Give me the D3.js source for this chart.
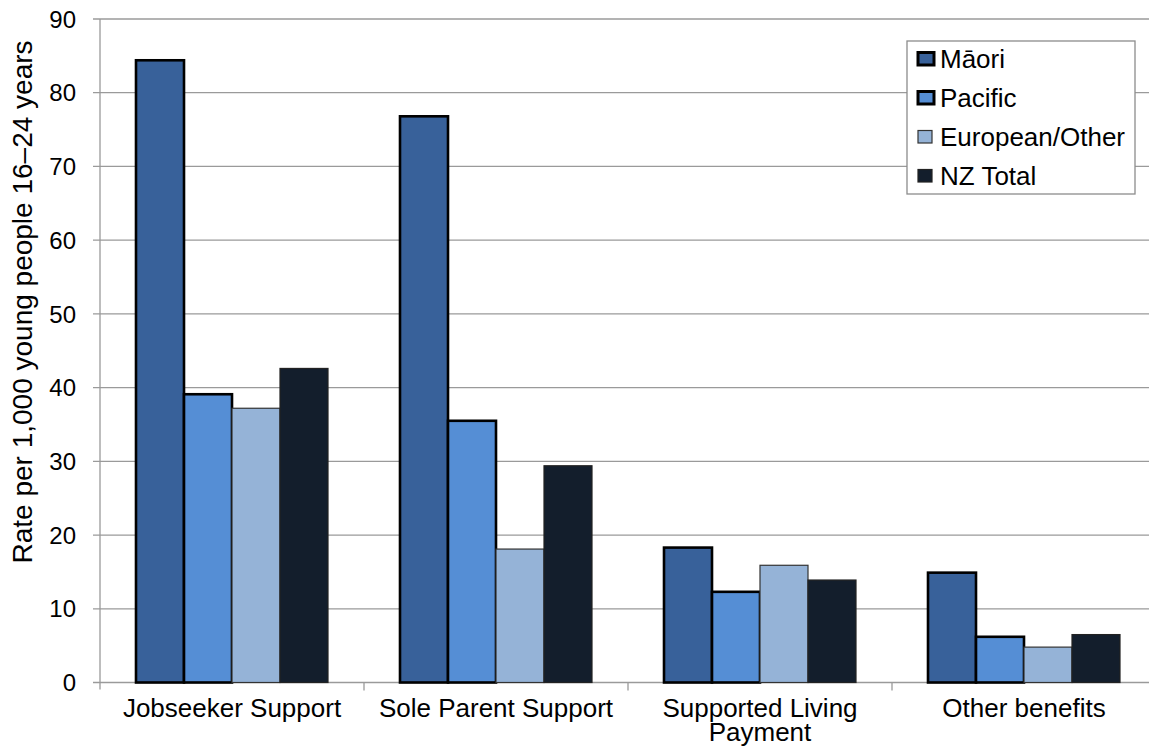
<!DOCTYPE html>
<html>
<head>
<meta charset="utf-8">
<script src="https://cdn.jsdelivr.net/npm/d3@7"></script>
<style>
  html, body { margin: 0; padding: 0; background: #fff; }
  svg { display: block; font-family: "Liberation Sans", Arial, sans-serif; }
</style>
</head>
<body>
<svg id="chart" width="1149" height="754"></svg>
<script>
// Benefit categories (x axis) and population groups (series)
const categories = ["Jobseeker Support", "Sole Parent Support", "Supported Living Payment", "Other benefits"];
const categoryLines = [["Jobseeker Support"], ["Sole Parent Support"], ["Supported Living", "Payment"], ["Other benefits"]];
const series = ["Māori", "Pacific", "European/Other", "NZ Total"];

// Rate per 1,000 young people aged 16–24, per category
const maori         = [84.4, 76.8, 18.3, 14.9];
const pacific       = [39.1, 35.5, 12.3, 6.2];
const europeanOther = [37.2, 18.1, 15.9, 4.8];
const nzTotal       = [42.6, 29.4, 13.9, 6.5];
const yTicks = [0, 10, 20, 30, 40, 50, 60, 70, 80, 90];

const values = [maori, pacific, europeanOther, nzTotal];
const colors = ["#38619A", "#558ED5", "#95B3D7", "#131E2C"];
const strokeW = [2.6, 2.6, 1.2, 1.2];
const strokeC = ["#000", "#000", "#333", "#222"];

const svg = d3.select("#chart");
const plotLeft = 100, plotTop = 19, plotBottom = 682.5, plotRight = 1156;

const y = d3.scaleLinear().domain([0, 90]).range([plotBottom, plotTop]);
const x0 = d3.scaleBand().domain(categories).range([plotLeft, plotRight]).padding(0);
const x1 = d3.scaleBand().domain(series).range([36, x0.bandwidth() - 36]).padding(0);

// Horizontal gridlines
svg.append("g")
  .selectAll("line")
  .data(yTicks)
  .join("line")
  .attr("x1", plotLeft - 7).attr("x2", 1149)
  .attr("y1", d => y(d)).attr("y2", d => y(d))
  .attr("stroke", "#9a9a9a").attr("stroke-width", 1.3);

// Y axis line
svg.append("line")
  .attr("x1", plotLeft).attr("x2", plotLeft)
  .attr("y1", plotTop).attr("y2", plotBottom + 7)
  .attr("stroke", "#9a9a9a").attr("stroke-width", 1.3);

// Y tick labels
svg.append("g")
  .selectAll("text")
  .data(yTicks)
  .join("text")
  .attr("x", 76)
  .attr("y", d => y(d))
  .attr("dy", "0.36em")
  .attr("text-anchor", "end")
  .attr("font-size", 24)
  .attr("fill", "#000")
  .text(d => d);

// Category separators on the x axis
svg.append("g")
  .selectAll("line")
  .data(categories.slice(1))
  .join("line")
  .attr("x1", d => x0(d)).attr("x2", d => x0(d))
  .attr("y1", plotBottom).attr("y2", plotBottom + 8)
  .attr("stroke", "#9a9a9a").attr("stroke-width", 1.3);

// Bars
const groups = svg.append("g")
  .selectAll("g")
  .data(categories)
  .join("g")
  .attr("transform", d => `translate(${x0(d)},0)`);

groups.selectAll("rect")
  .data((c, ci) => series.map((s, si) => ({ s, si, v: values[si][ci] })))
  .join("rect")
  .attr("x", d => x1(d.s))
  .attr("width", x1.bandwidth())
  .attr("y", d => y(d.v))
  .attr("height", d => plotBottom - y(d.v))
  .attr("fill", d => colors[d.si])
  .attr("stroke", d => strokeC[d.si])
  .attr("stroke-width", d => strokeW[d.si]);

// Category labels (multi-line where needed)
const catLabels = svg.append("g")
  .selectAll("text")
  .data(categories)
  .join("text")
  .attr("x", d => x0(d) + x0.bandwidth() / 2)
  .attr("y", 716.5)
  .attr("text-anchor", "middle")
  .attr("font-size", 26)
  .attr("fill", "#000");
catLabels.each(function (d, i) {
  d3.select(this).selectAll("tspan")
    .data(categoryLines[i])
    .join("tspan")
    .attr("x", x0(d) + x0.bandwidth() / 2)
    .attr("dy", (t, j) => j === 0 ? 0 : 24.5)
    .text(t => t);
});

// Y axis title
svg.append("text")
  .attr("transform", "translate(32, 302) rotate(-90)")
  .attr("text-anchor", "middle")
  .attr("font-size", 28)
  .attr("fill", "#000")
  .text("Rate per 1,000 young people 16–24 years");

// Legend
const legend = svg.append("g").attr("transform", "translate(907,41)");
legend.append("rect")
  .attr("width", 228).attr("height", 153)
  .attr("fill", "#fff").attr("stroke", "#8c8c8c").attr("stroke-width", 1.3);
const items = legend.selectAll("g")
  .data(series)
  .join("g")
  .attr("transform", (d, i) => `translate(0, ${18 + i * 39})`);
items.append("rect")
  .attr("x", (d, i) => i < 2 ? 11 : 11)
  .attr("y", -6.5)
  .attr("width", (d, i) => i < 2 ? 16 : 14)
  .attr("height", 12.5)
  .attr("fill", (d, i) => colors[i])
  .attr("stroke", (d, i) => strokeC[i])
  .attr("stroke-width", (d, i) => i < 2 ? 3 : 1.2);
items.append("text")
  .attr("x", 33).attr("y", 0).attr("dy", "0.36em")
  .attr("font-size", 26)
  .attr("fill", "#000")
  .text(d => d);
</script>
</body>
</html>
